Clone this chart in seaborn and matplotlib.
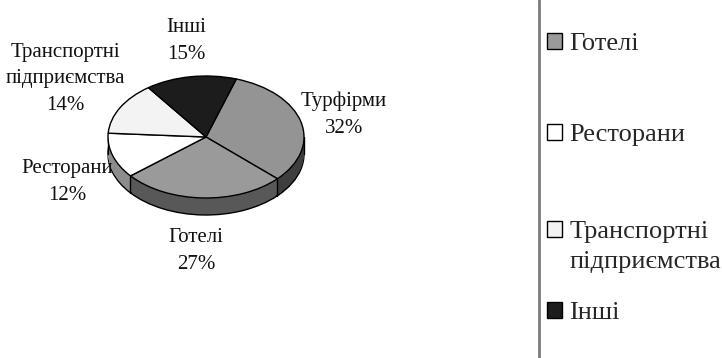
import numpy as np
import matplotlib
matplotlib.use("Agg")
import matplotlib.pyplot as plt
from matplotlib.lines import Line2D
import seaborn as sns

# ---- data ----
categories = ["Турфірми", "Готелі", "Ресторани", "Транспортні\nпідприємства", "Інші"]
shares = [32, 27, 12, 14, 15]
top_colors = ["#949494", "#9a9a9a", "#ffffff", "#f3f3f3", "#1c1c1c"]
side_colors = ["#3e3e3e", "#585858", "#8c8c8c", "#b4b4b4", "#101010"]

sns.set_theme(style="white")
plt.rcParams["font.family"] = ["Liberation Serif", "DejaVu Serif"]

W, H = 722, 358
fig = plt.figure(figsize=(W / 100, H / 100), dpi=100)
fig.patch.set_facecolor("white")

# pie axes (pixel geometry)
cx, cy = 206, 137          # centre of top surface in px
rx, ry = 98, 61            # ellipse radii in px
half_w, half_h = 150, 100
ax = fig.add_axes([(cx - half_w) / W, (H - (cy + half_h)) / H, 2 * half_w / W, 2 * half_h / H])

depth = 17 / ry
start = 72
common = dict(startangle=start, counterclock=False)

# bottom outline
ax.pie(shares, colors=side_colors, center=(0, -depth),
       wedgeprops=dict(edgecolor="black", linewidth=1.0), **common)
# extruded side layers
for k in np.arange(depth - 0.025, 0, -0.008):
    ax.pie(shares, colors=side_colors, center=(0, -k),
           wedgeprops=dict(linewidth=0), **common)

# vertical edges on the front side
bounds = start - 3.6 * np.concatenate([[0], np.cumsum(shares)])
for th in np.deg2rad(bounds):
    if np.sin(th) < 0:
        x, y = np.cos(th), np.sin(th)
        ax.plot([x, x], [y, y - depth], color="black", lw=1.0, zorder=5)
for x in (-1, 1):
    ax.plot([x, x], [0, -depth], color="black", lw=1.0, zorder=5)

# top surface
wedges, _ = ax.pie(shares, colors=top_colors,
                   wedgeprops=dict(edgecolor="black", linewidth=1.0), **common)
for w in wedges:
    w.set_zorder(6)

ax.set_aspect("auto")
ax.set_xlim(-half_w / rx, half_w / rx)
ax.set_ylim(-half_h / ry, half_h / ry)
ax.axis("off")

# pie labels (positions in px)
label_pos = [(344, 115), (196, 251), (67, 182), (65, 79), (186, 41)]
for name, v, (lx, ly) in zip(categories, shares, label_pos):
    fig.text(lx / W, 1 - ly / H, f"{name}\n{v}%", ha="center", va="center",
             fontsize=15, linespacing=1.55, color="#111111")

# legend (first entry lies above the visible area in the reference)
legend_rows = [None, 44, 135, 247, 313]
for w, name, ly in zip(wedges, categories, legend_rows):
    if ly is None:
        continue
    leg = fig.legend([w], [name], loc="center left", bbox_to_anchor=(547 / W, 1 - ly / H),
                     frameon=False, fontsize=19, handlelength=0.55, handleheight=0.55,
                     handletextpad=0.3, borderpad=0, borderaxespad=0, labelspacing=0)
    for t in leg.get_texts():
        t.set_linespacing(1.45)
    for col in leg._legend_handle_box.get_children():
        for item in col.get_children():
            item.align = "top"

fig.add_artist(Line2D([539 / W, 539 / W], [0, 1], color="#7a7a7a", lw=2,
                      transform=fig.transFigure))

fig.savefig("out.png", dpi=100)
